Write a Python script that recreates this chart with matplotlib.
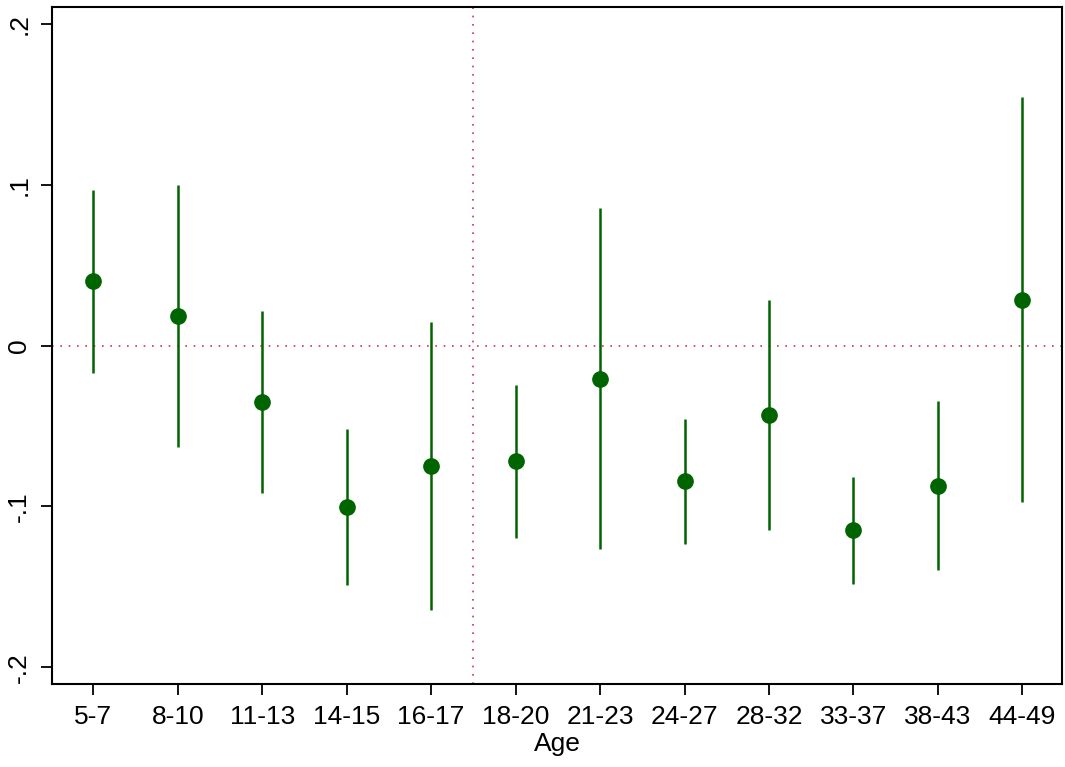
import matplotlib
matplotlib.use("Agg")
import matplotlib.pyplot as plt
import numpy as np

plt.rcParams['font.family'] = ['Liberation Sans', 'DejaVu Sans']

categories = ["5-7", "8-10", "11-13", "14-15", "16-17", "18-20", "21-23",
              "24-27", "28-32", "33-37", "38-43", "44-49"]
estimates = [0.0405, 0.0187, -0.0349, -0.1003, -0.0748, -0.0717, -0.0206,
             -0.0841, -0.0430, -0.1146, -0.0872, 0.0287]
ci_upper = [0.0970, 0.1003, 0.0218, -0.0517, 0.0150, -0.0243, 0.0860,
            -0.0455, 0.0287, -0.0816, -0.0343, 0.1545]
ci_lower = [-0.0168, -0.0630, -0.0916, -0.1490, -0.1645, -0.1196, -0.1265,
            -0.1234, -0.1146, -0.1483, -0.1396, -0.0972]
yticks = [-0.2, -0.1, 0.0, 0.1, 0.2]
ytick_labels = ["-.2", "-.1", "0", ".1", ".2"]

fig = plt.figure(figsize=(10.65, 7.67), dpi=100)
ax = fig.add_axes([52/1065, 1 - 684/767, (1062-52)/1065, (684-7)/767])

x = np.arange(len(categories))
green = "#006400"
ref = "#d0306a"

ax.axhline(0, color=ref, lw=1.2, ls=(0, (1, 4)), zorder=1)
ax.axvline(4.5, color=ref, lw=1.2, ls=(0, (1, 4)), zorder=1)

ax.vlines(x, ci_lower, ci_upper, color=green, lw=1.8, zorder=2)
ax.plot(x, estimates, 'o', color=green, ms=11, zorder=3)

ax.set_xlim(-0.49, 11.47)
ax.set_ylim(-0.2105, 0.2108)
ax.set_xticks(x)
ax.set_xticklabels(categories, fontsize=19)
ax.set_yticks(yticks)
ax.set_yticklabels(ytick_labels, fontsize=19, rotation=90, va='center')
ax.set_xlabel("Age", fontsize=19, labelpad=2)

for s in ax.spines.values():
    s.set_linewidth(1.5)
ax.tick_params(direction='out', length=8, width=1.3, pad=7)

fig.savefig("out.png", dpi=100)
